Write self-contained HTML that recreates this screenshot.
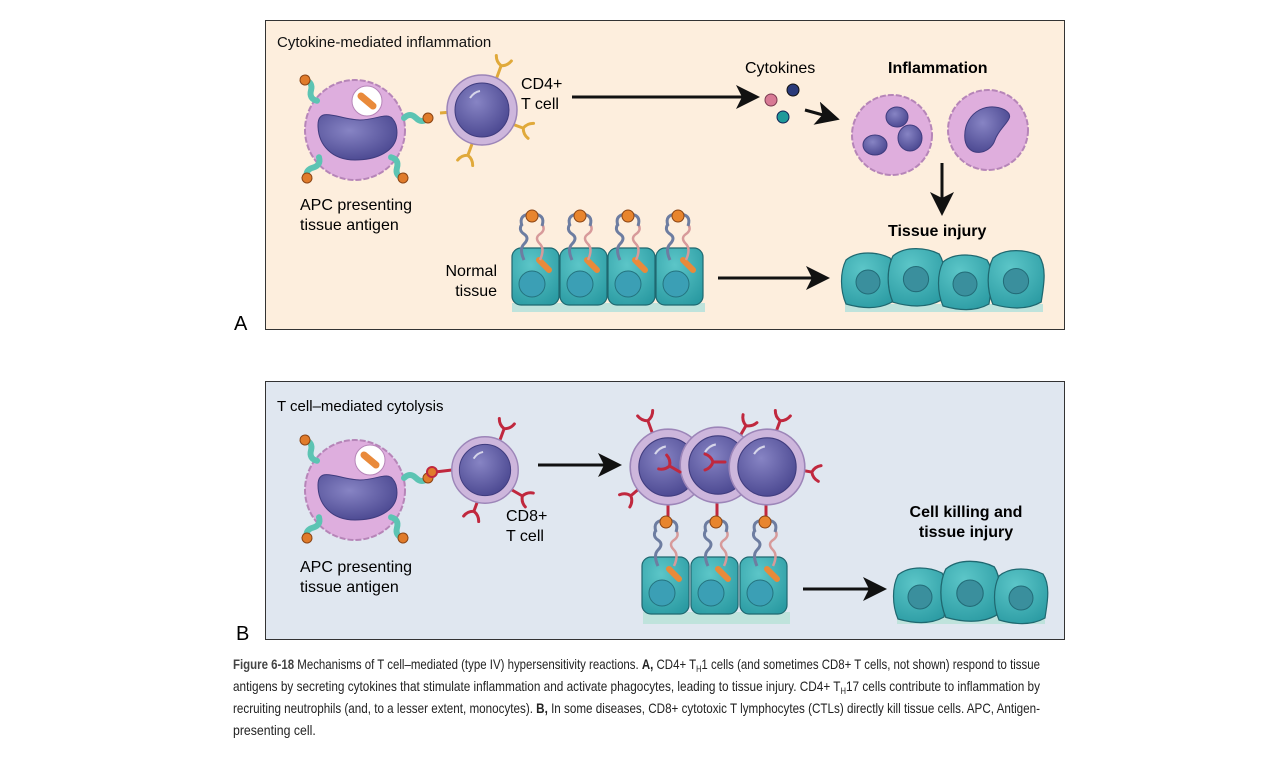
<!DOCTYPE html>
<html><head><meta charset="utf-8"><style>
html,body{margin:0;padding:0;background:#fff;}
svg{display:block;font-family:"Liberation Sans",Arial,sans-serif;}
</style></head><body>
<svg width="1271" height="760" viewBox="0 0 1271 760">
<defs>
<radialGradient id="nuc" cx="0.4" cy="0.35" r="0.7"><stop offset="0" stop-color="#8784c4"/><stop offset="1" stop-color="#4a4790"/></radialGradient>
<radialGradient id="tis" cx="0.4" cy="0.3" r="0.8"><stop offset="0" stop-color="#5cc6c8"/><stop offset="1" stop-color="#2a9aa2"/></radialGradient>
<g id="tcell"><circle r="35" fill="#cdb6dc" stroke="#9c85b8" stroke-width="1.5"/><circle r="27" fill="url(#nuc)" stroke="#3f3c7e" stroke-width="1"/><path d="M-12,-12 q4,-6 10,-7" stroke="#fff" stroke-width="2" fill="none" opacity="0.7"/></g>
<g id="tissue"><rect x="0" y="0" width="47" height="57" rx="9" fill="url(#tis)" stroke="#1f6870" stroke-width="1.2"/><circle cx="20" cy="36" r="13" fill="#3b9fb5" stroke="#24737f"/><line x1="27" y1="12" x2="37" y2="22" stroke="#e98a3a" stroke-width="6" stroke-linecap="round"/></g>
<g id="injured"><path d="M-22,-20 C-10,-30 10,-28 22,-22 C30,-10 26,8 24,22 C10,30 -8,28 -22,24 C-28,10 -28,-8 -22,-20Z" fill="url(#tis)" stroke="#1f6870" stroke-width="1.2"/><circle cx="0" cy="2" r="12" fill="#3a8f9d" stroke="#236c78"/></g>
<g id="mhc"><path d="M0,0 q6,-6 12,0 q6,6 12,0" stroke="#5cc4b3" stroke-width="6" fill="none" stroke-linecap="round"/><circle cx="0" cy="0" r="5" fill="#e07b2a" stroke="#8a4414"/></g>
<g id="tcr"><path d="M-10,8 q-4,6 2,10 q6,4 0,10 q-5,5 0,16" stroke="#6d7da1" stroke-width="3" fill="none"/><path d="M10,8 q4,6 -2,10 q-6,4 0,10 q5,5 0,16" stroke="#d79a9a" stroke-width="2.5" fill="none"/><path d="M-10,10 q-4,-12 10,-12 q14,0 10,12" stroke="#6d7da1" stroke-width="3" fill="none"/><circle cx="0" cy="0" r="6" fill="#e8852e" stroke="#8a4414"/></g>
<g id="yrec"><path d="M0,0 L0,-12 M0,-12 q-6,-2 -8,-8 M0,-12 q6,-2 8,-8" stroke="currentColor" stroke-width="3" fill="none" stroke-linecap="round"/></g>
<marker id="ah" markerWidth="8" markerHeight="8" refX="6" refY="4" orient="auto" markerUnits="strokeWidth"><path d="M0,0 L8,4 L0,8 L2,4Z" fill="#111"/></marker>
</defs>

<g>
<rect x="265.5" y="20.5" width="799" height="309" fill="#fdeedd" stroke="#333"/>
<text x="277" y="47" font-size="15" fill="#111">Cytokine-mediated inflammation</text>
<g>
<circle cx="355" cy="130" r="50" fill="#deaede" stroke="#b685b8" stroke-width="2" stroke-dasharray="6 2"/>
<path d="M318,125 C318,105 340,120 360,120 C380,120 390,108 396,125 C402,150 378,160 355,160 C332,160 318,145 318,125Z" fill="url(#nuc)" stroke="#3f3c7e"/>
<circle cx="367" cy="101" r="15" fill="#fff" stroke="#b685b8"/>
<line x1="361" y1="96" x2="373" y2="106" stroke="#e98a3a" stroke-width="7" stroke-linecap="round"/>
<use href="#mhc" transform="translate(305,80) rotate(60)"/>
<use href="#mhc" transform="translate(307,178) rotate(-60)"/>
<use href="#mhc" transform="translate(403,178) rotate(-120)"/>
<use href="#mhc" transform="translate(428,118) rotate(180)"/>
</g>
<g color="#e0a93a">
<use href="#yrec" transform="translate(497,77) rotate(20)"/>
<use href="#yrec" transform="translate(512,124) rotate(110)"/>
<use href="#yrec" transform="translate(472,144) rotate(200)"/>
<line x1="440" y1="113" x2="452" y2="112" stroke="#e0a93a" stroke-width="3"/>
<use href="#tcell" transform="translate(482,110)"/>
</g>
<text x="521" y="89" font-size="16">CD4+</text>
<text x="521" y="109" font-size="16">T cell</text>
<line x1="572" y1="97" x2="754" y2="97" stroke="#111" stroke-width="3" marker-end="url(#ah)"/>
<text x="745" y="73" font-size="16">Cytokines</text>
<g>
<circle cx="771" cy="100" r="6" fill="#d87a95" stroke="#7a3a50"/>
<circle cx="793" cy="90" r="6" fill="#2a3a7a" stroke="#111"/>
<circle cx="783" cy="117" r="6" fill="#1f9a9a" stroke="#125"/>
</g>
<line x1="805" y1="110" x2="834" y2="118" stroke="#111" stroke-width="3" marker-end="url(#ah)"/>
<text x="888" y="73" font-size="16" font-weight="bold">Inflammation</text>
<g>
<circle cx="892" cy="135" r="40" fill="#dfaedd" stroke="#b685b8" stroke-width="2" stroke-dasharray="6 2"/>
<ellipse cx="875" cy="145" rx="12" ry="10" fill="url(#nuc)" stroke="#3f3c7e"/>
<ellipse cx="897" cy="117" rx="11" ry="10" fill="url(#nuc)" stroke="#3f3c7e"/>
<ellipse cx="910" cy="138" rx="12" ry="13" fill="url(#nuc)" stroke="#3f3c7e"/>
</g>
<g>
<circle cx="988" cy="130" r="40" fill="#dfaedd" stroke="#b685b8" stroke-width="2" stroke-dasharray="6 2"/>
<path d="M965,140 C962,115 985,100 1005,110 C1018,118 1000,125 995,140 C990,155 968,158 965,140Z" fill="url(#nuc)" stroke="#3f3c7e"/>
</g>
<line x1="942" y1="163" x2="942" y2="210" stroke="#111" stroke-width="3" marker-end="url(#ah)"/>
<text x="888" y="236" font-size="16" font-weight="bold">Tissue injury</text>
<g>
<rect x="845" y="304" width="198" height="8" fill="#bfe3dc"/>
<use href="#injured" transform="translate(868,280)"/>
<use href="#injured" transform="translate(916,277) scale(1.05)"/>
<use href="#injured" transform="translate(965,282)"/>
<use href="#injured" transform="translate(1016,279) scale(1.05)"/>
</g>
<text x="497" y="276" font-size="16" text-anchor="end">Normal</text>
<text x="497" y="296" font-size="16" text-anchor="end">tissue</text>
<g>
<rect x="512" y="303" width="193" height="9" fill="#bfe3dc"/>
<use href="#tissue" x="512" y="248"/><use href="#tissue" x="560" y="248"/><use href="#tissue" x="608" y="248"/><use href="#tissue" x="656" y="248"/>
<use href="#tcr" x="532" y="216"/><use href="#tcr" x="580" y="216"/><use href="#tcr" x="628" y="216"/><use href="#tcr" x="678" y="216"/>
</g>
<line x1="718" y1="278" x2="824" y2="278" stroke="#111" stroke-width="3" marker-end="url(#ah)"/>
<text x="300" y="210" font-size="16">APC presenting</text>
<text x="300" y="230" font-size="16">tissue antigen</text>
</g>
<text x="234" y="330" font-size="20">A</text>

<g>
<rect x="265.5" y="381.5" width="799" height="258" fill="#e0e7f0" stroke="#333"/>
<text x="277" y="411" font-size="15">T cell–mediated cytolysis</text>
<g>
<circle cx="355" cy="490" r="50" fill="#deaede" stroke="#b685b8" stroke-width="2" stroke-dasharray="6 2"/>
<path d="M318,485 C318,465 340,480 360,480 C380,480 390,468 396,485 C402,510 378,520 355,520 C332,520 318,505 318,485Z" fill="url(#nuc)" stroke="#3f3c7e"/>
<circle cx="370" cy="460" r="15" fill="#fff" stroke="#b685b8"/>
<line x1="364" y1="455" x2="376" y2="465" stroke="#e98a3a" stroke-width="7" stroke-linecap="round"/>
<use href="#mhc" transform="translate(305,440) rotate(60)"/>
<use href="#mhc" transform="translate(307,538) rotate(-60)"/>
<use href="#mhc" transform="translate(403,538) rotate(-120)"/>
<use href="#mhc" transform="translate(428,478) rotate(180)"/>
</g>
<g color="#c0283e">
<use href="#yrec" transform="translate(500,440) rotate(20)"/>
<use href="#yrec" transform="translate(478,500) rotate(200)"/>
<use href="#yrec" transform="translate(512,490) rotate(120)"/>
<line x1="435" y1="472" x2="452" y2="470" stroke="#c0283e" stroke-width="3"/>
<circle cx="432" cy="472" r="5" fill="#e07b2a" stroke="#c0283e" stroke-width="2"/>
<use href="#tcell" transform="translate(485,470) scale(0.95)"/>
</g>
<text x="506" y="521" font-size="16">CD8+</text>
<text x="506" y="541" font-size="16">T cell</text>
<line x1="538" y1="465" x2="616" y2="465" stroke="#111" stroke-width="3" marker-end="url(#ah)"/>
<g color="#c0283e">
<line x1="668" y1="500" x2="668" y2="520" stroke="#c0283e" stroke-width="3"/>
<line x1="717" y1="500" x2="717" y2="520" stroke="#c0283e" stroke-width="3"/>
<line x1="766" y1="500" x2="766" y2="520" stroke="#c0283e" stroke-width="3"/>
<use href="#yrec" transform="translate(652,432) rotate(-20)"/>
<use href="#yrec" transform="translate(640,488) rotate(230)"/>
<use href="#yrec" transform="translate(740,436) rotate(30)"/>
<use href="#yrec" transform="translate(776,432) rotate(20)"/>
<use href="#yrec" transform="translate(800,470) rotate(100)"/>
<use href="#tcell" transform="translate(668,467) scale(1.08)"/>
<use href="#tcell" transform="translate(718,465) scale(1.08)"/>
<use href="#tcell" transform="translate(767,467) scale(1.08)"/>
<use href="#yrec" transform="translate(725,462) rotate(-90)"/>
<use href="#yrec" transform="translate(680,472) rotate(-60)"/>
</g>
<g>
<rect x="643" y="612" width="147" height="12" fill="#bfe3dc"/>
<use href="#tissue" x="642" y="557"/><use href="#tissue" x="691" y="557"/><use href="#tissue" x="740" y="557"/>
<use href="#tcr" x="666" y="522"/><use href="#tcr" x="716" y="522"/><use href="#tcr" x="765" y="522"/>
</g>
<line x1="803" y1="589" x2="881" y2="589" stroke="#111" stroke-width="3" marker-end="url(#ah)"/>
<text x="966" y="517" font-size="16" font-weight="bold" text-anchor="middle">Cell killing and</text>
<text x="966" y="537" font-size="16" font-weight="bold" text-anchor="middle">tissue injury</text>
<g>
<rect x="897" y="616" width="148" height="8" fill="#bfe3dc"/>
<use href="#injured" transform="translate(920,595)"/>
<use href="#injured" transform="translate(970,591) scale(1.1)"/>
<use href="#injured" transform="translate(1021,596)"/>
</g>
<text x="300" y="572" font-size="16">APC presenting</text>
<text x="300" y="592" font-size="16">tissue antigen</text>
</g>
<text x="236" y="640" font-size="20">B</text>

<g font-size="14" fill="#222">
<text x="233" y="669" textLength="807" lengthAdjust="spacingAndGlyphs"><tspan font-weight="bold" fill="#444">Figure 6-18</tspan> Mechanisms of T cell–mediated (type IV) hypersensitivity reactions. <tspan font-weight="bold">A,</tspan> CD4+ T<tspan font-size="9" dy="3">H</tspan><tspan dy="-3">1 cells (and sometimes CD8+ T cells, not shown) respond to tissue</tspan></text>
<text x="233" y="691" textLength="807" lengthAdjust="spacingAndGlyphs">antigens by secreting cytokines that stimulate inflammation and activate phagocytes, leading to tissue injury. CD4+ T<tspan font-size="9" dy="3">H</tspan><tspan dy="-3">17 cells contribute to inflammation by</tspan></text>
<text x="233" y="713" textLength="807" lengthAdjust="spacingAndGlyphs">recruiting neutrophils (and, to a lesser extent, monocytes). <tspan font-weight="bold">B,</tspan> In some diseases, CD8+ cytotoxic T lymphocytes (CTLs) directly kill tissue cells. APC, Antigen-</text>
<text x="233" y="735" transform="translate(233,0) scale(0.88,1) translate(-233,0)">presenting cell.</text>
</g>
</svg>
</body></html>
